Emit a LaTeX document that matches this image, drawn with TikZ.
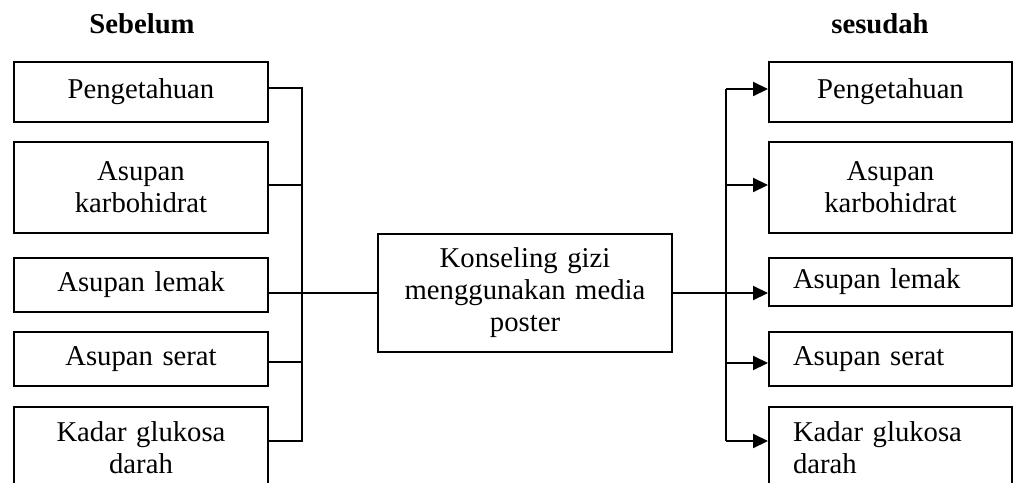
\documentclass[tikz,border=0pt]{standalone}
\usepackage{fontspec}
\setmainfont{Liberation Serif}
\usetikzlibrary{arrows.meta}
\begin{document}
\begin{tikzpicture}[x=1pt,y=-1pt,
  txt/.style={font=\fontsize{28.7}{32}\selectfont},
  box/.style={txt, draw, line width=2pt, inner xsep=0pt, inner ysep=0pt, align=center},
  lbox/.style={box, text width=254pt},
  rbox/.style={box, text width=243pt},
  rlbox/.style={box, text width=195pt, inner xsep=24pt, align=left},
  title/.style={font=\fontsize{28.7}{33}\selectfont\bfseries, anchor=base, inner sep=0pt},
  line/.style={line width=2pt},
  arr/.style={line width=2pt, -{Triangle[length=15pt,width=14pt]}}]
\useasboundingbox (0,0) rectangle (1014,482);
\clip (0,0) rectangle (1014,482);

\node[title] (t1) at (142,33) {Sebelum};
\node[title] (t2) at (880,33) {sesudah};

% left boxes
\node[lbox, minimum height=60pt] (L1) at (141,92) {Pengetahuan};
\node[lbox, minimum height=91pt] (L2) at (141,187.5) {Asupan\\karbohidrat};
\node[lbox, minimum height=54pt] (L3) at (141,285) {Asupan lemak};
\node[lbox, minimum height=54pt] (L4) at (141,359) {Asupan serat};
\node[lbox, minimum height=82pt] (L5) at (141,448) {Kadar glukosa\\darah};

% center
\node[box, text width=294pt, minimum height=118pt] (C) at (525,293) {Konseling gizi\\menggunakan media\\poster};

% right boxes
\node[rbox, minimum height=60pt] (R1) at (890.5,92) {Pengetahuan};
\node[rbox, minimum height=91pt] (R2) at (890.5,187.5) {Asupan\\karbohidrat};
\node[rlbox, minimum height=48pt] (R3) at (890.5,282) {Asupan lemak};
\node[rlbox, minimum height=54pt] (R4) at (890.5,359) {Asupan serat};
\node[rlbox, minimum height=82pt] (R5) at (890.5,448) {Kadar glukosa\\darah};

% left junctions
\coordinate (a1) at (302,88);
\coordinate (a2) at (302,185);
\coordinate (a4) at (302,362);
\coordinate (a5) at (302,441);
\draw[line] (L1.east |- a1) -- (a1) -- (a5) -- (L5.east |- a5);
\draw[line] (L2.east |- a2) -- (a2);
\draw[line] (L4.east |- a4) -- (a4);
\draw[line] (L3.east |- C.west) -- (C.west);

% right junctions
\coordinate (b1) at (726,89);
\coordinate (b2) at (726,185);
\coordinate (b4) at (726,363);
\coordinate (b5) at (726,441);
\draw[line] (b1) -- (b5);
\draw[arr] (b1) -- (R1.west |- b1);
\draw[arr] (b2) -- (R2.west |- b2);
\draw[arr] (b4) -- (R4.west |- b4);
\draw[arr] (b5) -- (R5.west |- b5);
\draw[arr] (C.east) -- (R3.west |- C.east);
\end{tikzpicture}
\end{document}
